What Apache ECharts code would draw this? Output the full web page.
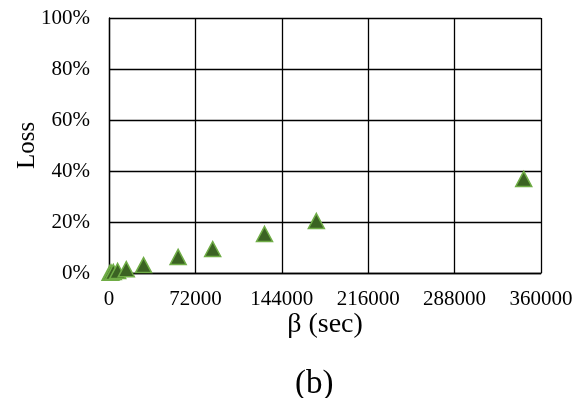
<!DOCTYPE html>
<html>
<head>
<meta charset="utf-8">
<script src="https://cdn.jsdelivr.net/npm/echarts@6/dist/echarts.min.js"></script>
<style>
  html, body { margin: 0; padding: 0; background: #fff; }
  #chart { width: 574px; height: 398px; }
</style>
</head>
<body>
<div id="chart"></div>
<script>
// Idle interval β in seconds and the resulting loss fraction
var betaSec = [900, 1800, 3600, 7200, 14400, 28800, 57600, 86400, 129600, 172800, 345600];
var lossFrac = [0.001, 0.002, 0.004, 0.008, 0.015, 0.031, 0.063, 0.094, 0.153, 0.204, 0.369];
var xTicks = [0, 72000, 144000, 216000, 288000, 360000];
var yTicks = [0, 0.2, 0.4, 0.6, 0.8, 1.0];

var points = betaSec.map(function (b, i) { return [b, lossFrac[i]]; });
var serif = '"Liberation Serif", "Times New Roman", serif';

var chart = echarts.init(document.getElementById('chart'), null, { renderer: 'canvas' });
chart.setOption({
  animation: false,
  backgroundColor: '#ffffff',
  grid: { left: 109, right: 33, top: 18, bottom: 125, containLabel: false, outerBoundsMode: 'none' },
  xAxis: {
    type: 'value',
    min: xTicks[0],
    max: xTicks[xTicks.length - 1],
    interval: xTicks[1] - xTicks[0],
    name: 'β (sec)',
    nameLocation: 'middle',
    nameGap: 38,
    nameMoveOverlap: false,
    nameTextStyle: { fontFamily: serif, fontSize: 28, color: '#000' },
    axisLine: { show: true, lineStyle: { color: '#000', width: 1.3 } },
    axisTick: { show: false },
    axisLabel: {
      fontFamily: serif, fontSize: 21, color: '#000', margin: 16,
      formatter: function (v) { return String(v); }
    },
    splitLine: { show: true, lineStyle: { color: '#000', width: 1.3 } }
  },
  yAxis: {
    type: 'value',
    min: yTicks[0],
    max: yTicks[yTicks.length - 1],
    interval: yTicks[1] - yTicks[0],
    name: 'Loss',
    nameLocation: 'middle',
    nameGap: 69,
    nameMoveOverlap: false,
    nameTextStyle: { fontFamily: serif, fontSize: 25, color: '#000' },
    axisLine: { show: true, lineStyle: { color: '#000', width: 1.3 } },
    axisTick: { show: false },
    axisLabel: {
      fontFamily: serif, fontSize: 21, color: '#000', margin: 19,
      formatter: function (v) { return Math.round(v * 100) + '%'; }
    },
    splitLine: { show: true, lineStyle: { color: '#000', width: 1.3 } }
  },
  series: [{
    type: 'scatter',
    data: points,
    clip: false,
    symbol: 'triangle',
    symbolSize: [16, 15],
    itemStyle: { color: '#3b6323', borderColor: '#70ad47', borderWidth: 1.5, opacity: 1 },
    z: 5
  }],
  graphic: [{
    type: 'text',
    left: 295,
    top: 368,
    style: { text: '(b)', font: '33px ' + serif, fill: '#000' }
  }]
});
</script>
</body>
</html>
